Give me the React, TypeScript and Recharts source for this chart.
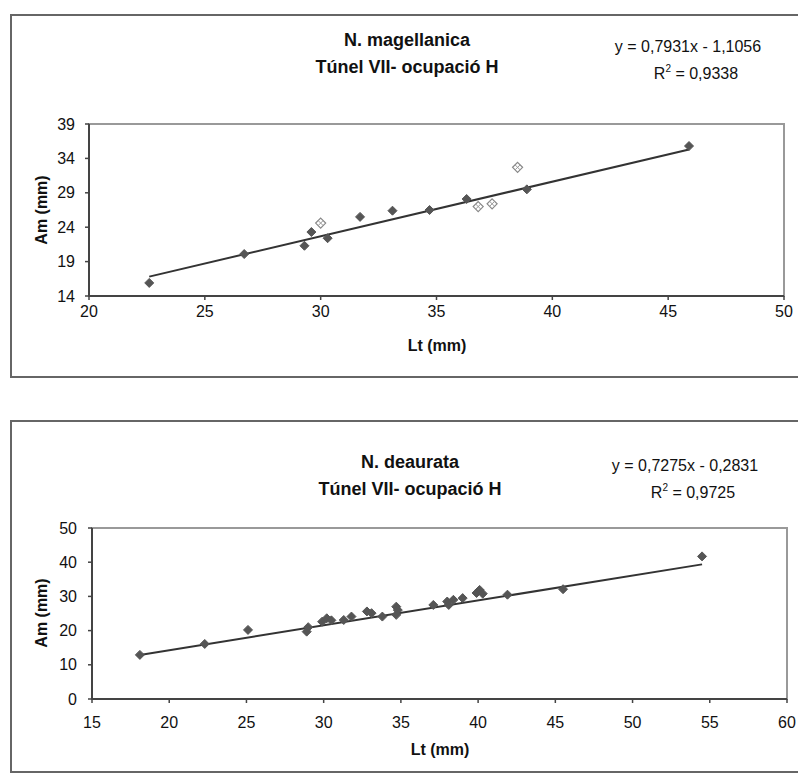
import React from "react";
import { ScatterChart, Scatter, XAxis, YAxis, ReferenceArea } from "recharts";

// ---- Top chart: N. magellanica ----
const TOP_TITLE = ["N. magellanica", "Túnel VII- ocupació H"];
const TOP_EQ = ["y = 0,7931x - 1,1056", "0,9338"];
const TOP_SLOPE = 0.7931;
const TOP_INTERCEPT = -1.1056;
const TOP_LT = [22.6, 26.7, 29.3, 29.6, 30.3, 31.7, 33.1, 34.7, 36.3, 38.9, 45.9];
const TOP_AM = [15.9, 20.1, 21.3, 23.3, 22.4, 25.5, 26.4, 26.5, 28.1, 29.5, 35.8];
const TOP_LT_OPEN = [30.0, 36.8, 37.4, 38.5];
const TOP_AM_OPEN = [24.6, 27.0, 27.4, 32.7];
const TOP_X_TICKS = [20, 25, 30, 35, 40, 45, 50];
const TOP_Y_TICKS = [14, 19, 24, 29, 34, 39];

// ---- Bottom chart: N. deaurata ----
const BOT_TITLE = ["N. deaurata", "Túnel VII- ocupació H"];
const BOT_EQ = ["y = 0,7275x - 0,2831", "0,9725"];
const BOT_SLOPE = 0.7275;
const BOT_INTERCEPT = -0.2831;
const BOT_LT = [18.1, 22.3, 25.1, 28.9, 29.0, 29.9, 30.2, 30.5, 31.3, 31.8, 32.8, 33.1, 33.8, 34.7, 34.7, 34.8, 37.1, 38.0, 38.1, 38.4, 39.0, 39.9, 40.1, 40.3, 41.9, 45.5, 54.5];
const BOT_AM = [12.9, 16.1, 20.2, 19.7, 21.0, 22.6, 23.6, 23.0, 23.1, 24.1, 25.6, 25.1, 24.1, 27.0, 24.6, 26.0, 27.5, 28.5, 27.5, 29.0, 29.5, 31.0, 31.9, 30.8, 30.5, 32.1, 41.7];
const BOT_X_TICKS = [15, 20, 25, 30, 35, 40, 45, 50, 55, 60];
const BOT_Y_TICKS = [0, 10, 20, 30, 40, 50];

const AX_LABEL_X = "Lt (mm)";
const AX_LABEL_Y = "Am (mm)";

const FONT = "'Liberation Sans', Arial, sans-serif";

const toPoints = (xs: number[], ys: number[]) => xs.map((x, i) => ({ x, y: ys[i] }));
const trend = (xs: number[], m: number, b: number) => {
  const lo = Math.min(...xs);
  const hi = Math.max(...xs);
  return [
    { x: lo, y: m * lo + b },
    { x: hi, y: m * hi + b },
  ];
};

const Diamond = (props: any) => {
  const { cx, cy } = props;
  const r = 4.5;
  return (
    <polygon
      points={`${cx},${cy - r} ${cx + r},${cy} ${cx},${cy + r} ${cx - r},${cy}`}
      fill="#555"
      stroke="#555"
      strokeWidth={1}
    />
  );
};

const OpenDiamond = (props: any) => {
  const { cx, cy } = props;
  const r = 5;
  return (
    <g>
      <polygon
        points={`${cx},${cy - r} ${cx + r},${cy} ${cx},${cy + r} ${cx - r},${cy}`}
        fill="#fff"
        stroke="#888"
        strokeWidth={1.2}
      />
      <line x1={cx - 2.5} y1={cy - 2.5} x2={cx + 2.5} y2={cy + 2.5} stroke="#999" strokeWidth={1} />
      <line x1={cx - 2.5} y1={cy + 2.5} x2={cx + 2.5} y2={cy - 2.5} stroke="#999" strokeWidth={1} />
    </g>
  );
};

const NoShape = () => <g />;

const tickStyle = { fontSize: 16, fill: "#111", fontFamily: FONT };
const axisLine = { stroke: "#444", strokeWidth: 2 };

const textAbs = (left: number, top: number, extra: React.CSSProperties = {}): React.CSSProperties => ({
  position: "absolute",
  left,
  top,
  transform: "translate(-50%, -50%)",
  whiteSpace: "nowrap",
  fontFamily: FONT,
  color: "#111",
  ...extra,
});

export default function App() {
  const topPts = toPoints(TOP_LT, TOP_AM);
  const topOpen = toPoints(TOP_LT_OPEN, TOP_AM_OPEN);
  const topLine = trend(TOP_LT, TOP_SLOPE, TOP_INTERCEPT);
  const botPts = toPoints(BOT_LT, BOT_AM);
  const botLine = trend(BOT_LT, BOT_SLOPE, BOT_INTERCEPT);

  return (
    <div style={{ position: "absolute", left: 0, top: 0, width: 798, height: 775, background: "#fff", overflow: "hidden" }}>
      {/* frames */}
      <div style={{ position: "absolute", left: 10, top: 14, width: 800, height: 364, border: "2px solid #666", boxSizing: "border-box" }} />
      <div style={{ position: "absolute", left: 10, top: 420, width: 800, height: 353, border: "2px solid #666", boxSizing: "border-box" }} />

      {/* top chart */}
      <div style={{ position: "absolute", left: 0, top: 0 }}>
        <ScatterChart width={798} height={775} margin={{ top: 124, right: 14, bottom: 449, left: 49 }}>
          <XAxis type="number" dataKey="x" domain={[20, 50]} ticks={TOP_X_TICKS} interval={0} allowDataOverflow
            axisLine={axisLine} tickLine={{ stroke: "#444", strokeWidth: 1.5 }} tickSize={4} tickMargin={6} tick={tickStyle} height={30} />
          <YAxis type="number" dataKey="y" domain={[14, 39]} ticks={TOP_Y_TICKS} interval={0} allowDataOverflow
            axisLine={axisLine} tickLine={{ stroke: "#444", strokeWidth: 1.5 }} tickSize={4} tickMargin={10} tick={tickStyle} width={40} />
          <ReferenceArea x1={20} x2={50} y1={14} y2={39} fill="none" stroke="#999" strokeWidth={2} ifOverflow="visible" />
          <Scatter data={topLine} line={{ stroke: "#333", strokeWidth: 2 }} shape={NoShape} isAnimationActive={false} />
          <Scatter data={topPts} shape={Diamond} isAnimationActive={false} />
          <Scatter data={topOpen} shape={OpenDiamond} isAnimationActive={false} />
        </ScatterChart>
      </div>

      {/* bottom chart */}
      <div style={{ position: "absolute", left: 0, top: 0 }}>
        <ScatterChart width={798} height={775} margin={{ top: 528, right: 11, bottom: 46, left: 52 }}>
          <XAxis type="number" dataKey="x" domain={[15, 60]} ticks={BOT_X_TICKS} interval={0} allowDataOverflow
            axisLine={axisLine} tickLine={{ stroke: "#444", strokeWidth: 1.5 }} tickSize={4} tickMargin={14} tick={tickStyle} height={30} />
          <YAxis type="number" dataKey="y" domain={[0, 50]} ticks={BOT_Y_TICKS} interval={0} allowDataOverflow
            axisLine={axisLine} tickLine={{ stroke: "#444", strokeWidth: 1.5 }} tickSize={4} tickMargin={11} tick={tickStyle} width={40} />
          <ReferenceArea x1={15} x2={60} y1={0} y2={50} fill="none" stroke="#999" strokeWidth={2} ifOverflow="visible" />
          <Scatter data={botLine} line={{ stroke: "#333", strokeWidth: 2 }} shape={NoShape} isAnimationActive={false} />
          <Scatter data={botPts} shape={Diamond} isAnimationActive={false} />
        </ScatterChart>
      </div>

      {/* top texts */}
      <div style={textAbs(407, 40, { fontSize: 18, fontWeight: "bold" })}>{TOP_TITLE[0]}</div>
      <div style={textAbs(407, 67, { fontSize: 18, fontWeight: "bold" })}>{TOP_TITLE[1]}</div>
      <div style={textAbs(688, 47, { fontSize: 16 })}>{TOP_EQ[0]}</div>
      <div style={textAbs(696, 73, { fontSize: 16 })}>R<sup style={{ fontSize: 10 }}>2</sup> = {TOP_EQ[1]}</div>
      <div style={textAbs(437, 346, { fontSize: 16, fontWeight: "bold" })}>{AX_LABEL_X}</div>
      <div style={textAbs(42, 210, { fontSize: 16, fontWeight: "bold", transform: "translate(-50%, -50%) rotate(-90deg)" })}>{AX_LABEL_Y}</div>

      {/* bottom texts */}
      <div style={textAbs(410, 462, { fontSize: 18, fontWeight: "bold" })}>{BOT_TITLE[0]}</div>
      <div style={textAbs(410, 489, { fontSize: 18, fontWeight: "bold" })}>{BOT_TITLE[1]}</div>
      <div style={textAbs(685, 466, { fontSize: 16 })}>{BOT_EQ[0]}</div>
      <div style={textAbs(693, 492, { fontSize: 16 })}>R<sup style={{ fontSize: 10 }}>2</sup> = {BOT_EQ[1]}</div>
      <div style={textAbs(440, 750, { fontSize: 16, fontWeight: "bold" })}>{AX_LABEL_X}</div>
      <div style={textAbs(42, 613, { fontSize: 16, fontWeight: "bold", transform: "translate(-50%, -50%) rotate(-90deg)" })}>{AX_LABEL_Y}</div>
    </div>
  );
}
